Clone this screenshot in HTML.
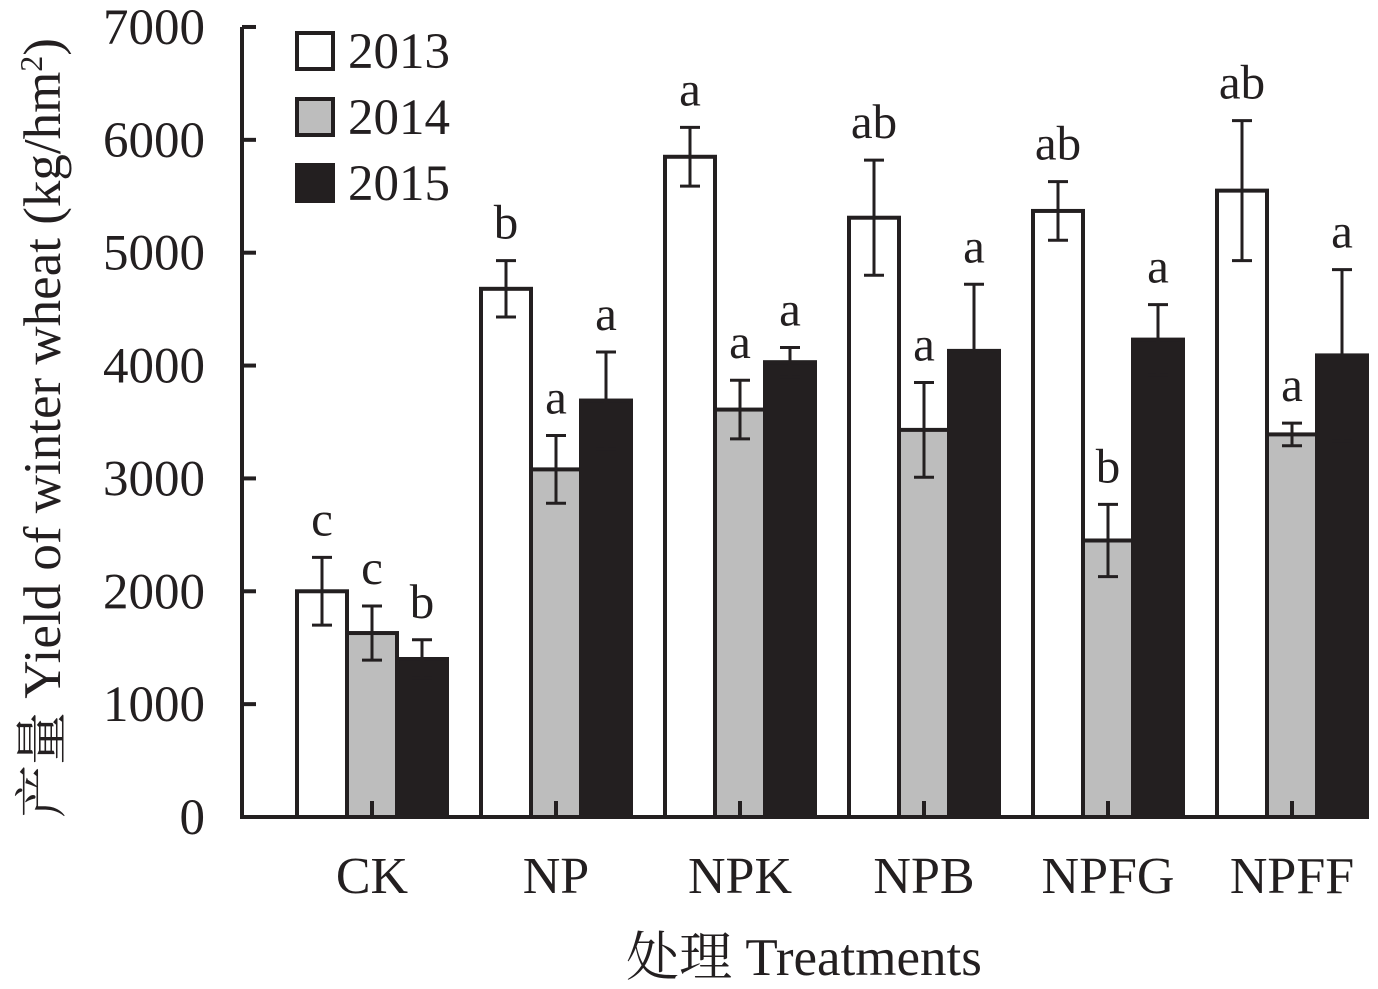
<!DOCTYPE html>
<html><head><meta charset="utf-8"><style>
body{margin:0;background:#fff}
svg text{font-family:"Liberation Serif","Noto Serif CJK SC",serif;fill:#231f20}
</style></head><body>
<svg id="c" width="1378" height="984" viewBox="0 0 1378 984">
<g id="plot"></g>
</svg>
<script>
const categories=["CK","NP","NPK","NPB","NPFG","NPFF"];
const years=["2013","2014","2015"];
const v2013=[2000,4680,5850,5310,5370,5550];
const v2014=[1630,3080,3610,3430,2450,3390];
const v2015=[1400,3690,4030,4130,4230,4090];
const e2013=[300,250,260,510,260,620];
const e2014=[240,300,260,420,320,100];
const e2015=[170,430,130,590,310,760];
const l2013=["c","b","a","ab","ab","ab"];
const l2014=["c","a","a","a","b","a"];
const l2015=["b","a","a","a","a","a"];
const yTicks=[0,1000,2000,3000,4000,5000,6000,7000];

const NS="http://www.w3.org/2000/svg";
const g=document.getElementById('plot');
const X0=242,X1=1368,Y0=817,PX=112.86/1000;
const y=v=>Y0-v*PX;
const cx=i=>372+i*184;
const bw=50;
function mk(t,a,txt){const e=document.createElementNS(NS,t);for(const k in a)e.setAttribute(k,a[k]);if(txt!==undefined)e.textContent=txt;g.appendChild(e);return e;}
const series=[[v2013,e2013,l2013,"#fff"],[v2014,e2014,l2014,"#bdbdbd"],[v2015,e2015,l2015,"#231f20"]];
categories.forEach((c,i)=>{
 series.forEach((s,j)=>{
  const x=cx(i)-75+j*bw, v=s[0][i], e=s[1][i];
  const r=mk('rect',{x:x,y:y(v),width:bw,height:Y0-y(v),fill:s[3],stroke:'#231f20','stroke-width':4});
  
  
  const m=x+bw/2;
  const eb=mk('path',{d:`M${m},${y(v+e)}V${y(v-e)}M${m-10},${y(v+e)}H${m+10}M${m-10},${y(v-e)}H${m+10}`,stroke:'#231f20','stroke-width':3,fill:'none'});
  
  
  const t=mk('text',{x:m,y:y(v+e)-22,'text-anchor':'middle','font-size':49},s[2][i]);
  
  
 });
 const tk=mk('line',{x1:cx(i),x2:cx(i),y1:Y0,y2:Y0-16,stroke:'#231f20','stroke-width':4});
 
 
 const lb=mk('text',{x:cx(i),y:893,'text-anchor':'middle','font-size':52},c);
 
 
});
yTicks.forEach(v=>{
 const tk=mk('line',{x1:X0,x2:X0+14,y1:y(v),y2:y(v),stroke:'#231f20','stroke-width':4});
 
 
 const lb=mk('text',{x:205,y:y(v)+17,'text-anchor':'end','font-size':51},v);
 
 
});
const ax=mk('path',{d:`M${X0},${y(7000)}V${Y0}H${X1}`,stroke:'#231f20','stroke-width':4,fill:'none'});


years.forEach((yr,j)=>{
 const r=mk('rect',{x:297,y:33+j*66,width:36,height:36,fill:series[j][3],stroke:'#231f20','stroke-width':4});
 
 
 const t=mk('text',{x:348,y:68+j*66,'font-size':51},yr);
 
 
});
const xt=mk('text',{x:804,y:975,'text-anchor':'middle','font-size':53},'处理 Treatments');


const yt=mk('text',{x:0,y:0,'text-anchor':'middle','font-size':53,transform:'translate(60,428) rotate(-90)'});


yt.innerHTML='产量 Yield of winter wheat (kg/hm<tspan dy="-18" font-size="32">2</tspan><tspan dy="18">)</tspan>';
</script>
</body></html>
